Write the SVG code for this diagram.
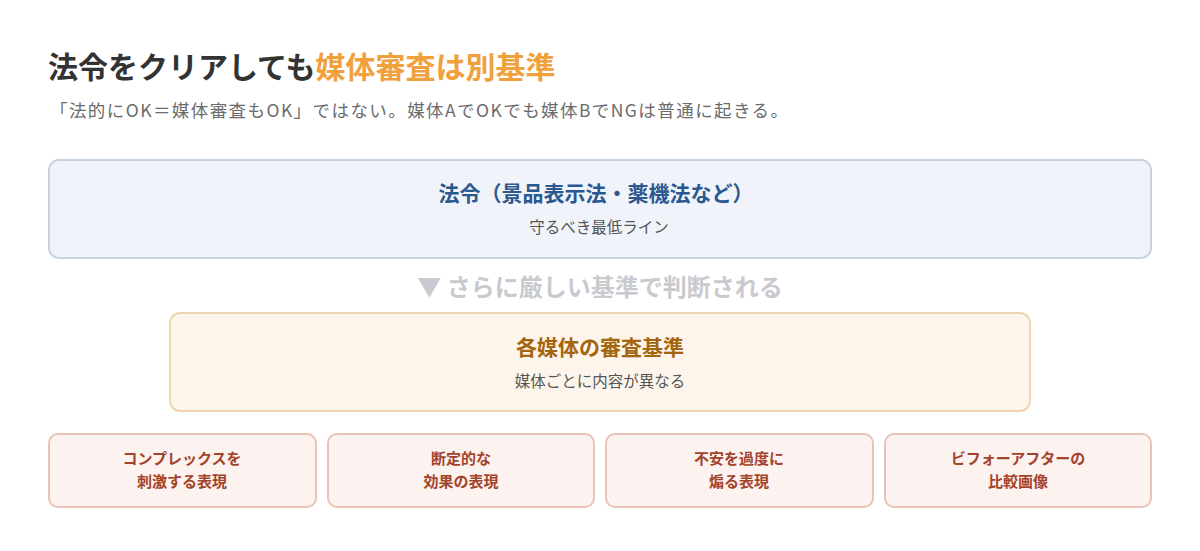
<svg xmlns="http://www.w3.org/2000/svg" width="1200" height="551" viewBox="0 0 1200 551">
<style>
text{font-family:"Noto Sans CJK JP","Noto Sans",sans-serif;}
.title{font-size:30px;font-weight:700;}
.sub{font-size:17.5px;fill:#6b6b6b;}
.t1{font-size:21px;font-weight:700;fill:#2b5891;text-anchor:middle;}
.t2{font-size:21px;font-weight:700;fill:#a4650f;text-anchor:middle;}
.s{font-size:15.5px;fill:#555;text-anchor:middle;}
.b{font-size:15px;font-weight:700;fill:#a3432a;text-anchor:middle;}
.cbox{fill:#fcf2ef;stroke:#e9c3b5;stroke-width:2;}
</style>
<rect width="1200" height="551" fill="#ffffff"/>
<text class="title" x="48" y="78"><tspan fill="#333333">法令をクリアしても</tspan><tspan fill="#f0a03c">媒体審査は別基準</tspan></text>
<text class="sub" x="50" y="117" textLength="738" lengthAdjust="spacing">「法的にOK＝媒体審査もOK」ではない。媒体AでOKでも媒体BでNGは普通に起きる。</text>
<g id="law">
<rect x="49" y="160" width="1102" height="98" rx="10" fill="#f0f4fa" stroke="#c6d3e3" stroke-width="2"/>
<text class="t1" x="596" y="201">法令（景品表示法・薬機法など）</text>
<text class="s" x="599" y="233">守るべき最低ライン</text>
</g>
<g id="connectors">
<text x="600" y="296" font-size="24" font-weight="700" fill="#c9c9cf" text-anchor="middle">▼ さらに厳しい基準で判断される</text>
</g>
<g id="media">
<rect x="170" y="313" width="860" height="98" rx="10" fill="#fdf5ec" stroke="#efd6b0" stroke-width="2"/>
<text class="t2" x="600" y="355">各媒体の審査基準</text>
<text class="s" x="600" y="387">媒体ごとに内容が異なる</text>
</g>
<g id="c1">
<rect class="cbox" x="49" y="434" width="267" height="73" rx="9"/>
<text class="b" x="182" y="464">コンプレックスを</text>
<text class="b" x="182" y="487">刺激する表現</text>
</g>
<g id="c2">
<rect class="cbox" x="328" y="434" width="266" height="73" rx="9"/>
<text class="b" x="461" y="464">断定的な</text>
<text class="b" x="461" y="487">効果の表現</text>
</g>
<g id="c3">
<rect class="cbox" x="606" y="434" width="267" height="73" rx="9"/>
<text class="b" x="739" y="464">不安を過度に</text>
<text class="b" x="739" y="487">煽る表現</text>
</g>
<g id="c4">
<rect class="cbox" x="885" y="434" width="266" height="73" rx="9"/>
<text class="b" x="1018" y="464">ビフォーアフターの</text>
<text class="b" x="1018" y="487">比較画像</text>
</g>
</svg>
